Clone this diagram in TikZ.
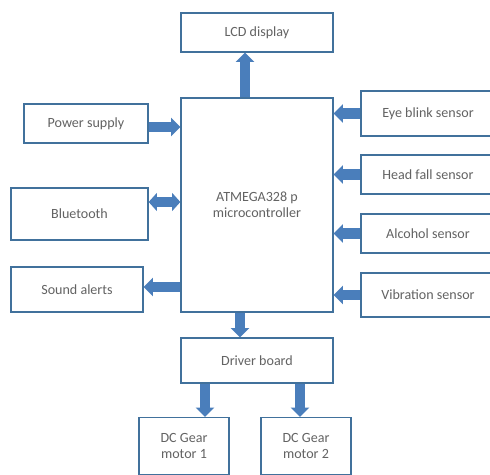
\documentclass[tikz,border=0pt]{standalone}
\usepackage{fontspec}
\setmainfont{Carlito}
\usetikzlibrary{arrows.meta}
\definecolor{blkEdge}{HTML}{41719C}
\definecolor{blkFill}{HTML}{4A7EBB}
\definecolor{blkText}{HTML}{636363}
\tikzset{
  every picture/.style={font=\fontsize{12}{14}\selectfont, text=blkText},
  blk box/.style={draw=blkEdge, line width=1.1pt, fill=white, align=center,
    inner sep=0pt},
  blk arrow/.style={-{Triangle[length=0.28cm,width=0.54cm]},
    draw=blkFill, line width=0.3cm, line cap=butt},
  blk both/.style={{Triangle[length=0.25cm,width=0.54cm]}-{Triangle[length=0.25cm,width=0.54cm]},
    draw=blkFill, line width=0.3cm, line cap=butt}
}

\begin{document}
\begin{tikzpicture}[x=0.03cm,y=-0.03cm]
  \useasboundingbox (0,0) rectangle (490,475);
  \clip (0,0) rectangle (490,475);
  % centre column
  \node[blk box, minimum width=4.56cm, minimum height=1.17cm] (lcd) at (257,32.5) {LCD display};
  \node[blk box, minimum width=4.56cm, minimum height=6.42cm] (mcu) at (257,205) {ATMEGA328 p\\microcontroller};
  \node[blk box, minimum width=4.56cm, minimum height=1.35cm] (driver) at (257,360.5) {Driver board};
  \node[blk box, minimum width=2.7cm, minimum height=1.71cm] (motorA) at (184,446) {DC Gear\\motor 1};
  \node[blk box, minimum width=2.7cm, minimum height=1.71cm] (motorB) at (306,446) {DC Gear\\motor 2};
  % left column
  \node[blk box, minimum width=3.72cm, minimum height=1.17cm] (power) at (86,123.5) {Power supply};
  \node[blk box, minimum width=4.11cm, minimum height=1.56cm] (bt) at (79.5,214) {Bluetooth};
  \node[blk box, minimum width=3.96cm, minimum height=1.35cm] (sound) at (77,289.5) {Sound alerts};
  % sensors
  \node[blk box, minimum width=4.02cm, minimum height=1.35cm] (eye) at (428,113.5) {Eye blink sensor};
  \node[blk box, minimum width=4.02cm, minimum height=1.17cm] (head) at (428,174.5) {Head fall sensor};
  \node[blk box, minimum width=4.02cm, minimum height=1.17cm] (alcohol) at (428,233.5) {Alcohol sensor};
  \node[blk box, minimum width=4.02cm, minimum height=1.32cm] (vib) at (428,295) {Vibration sensor};
  \coordinate (lcdtap) at (245,0);
  \coordinate (drvtap) at (240,0);
  \coordinate (mtrA) at (205,0);
  \coordinate (mtrB) at (300,0);
  \coordinate (pwrtap) at (0,127);
  \coordinate (bttap) at (0,202);
  \coordinate (sndtap) at (0,287);

  \draw[blk arrow] (mcu.north -| lcdtap) -- (lcd.south -| lcdtap);
  \draw[blk arrow] (mcu.south -| drvtap) -- (driver.north -| drvtap);
  \draw[blk arrow] (driver.south -| mtrA) -- (motorA.north -| mtrA);
  \draw[blk arrow] (driver.south -| mtrB) -- (motorB.north -| mtrB);
  \draw[blk arrow] (power.east |- pwrtap) -- (mcu.west |- pwrtap);
  \draw[blk both] (bt.east |- bttap) -- (mcu.west |- bttap);
  \draw[blk arrow] (mcu.west |- sndtap) -- (sound.east |- sndtap);
  \draw[blk arrow] (eye.west) -- (eye.west -| mcu.east);
  \draw[blk arrow] (head.west) -- (head.west -| mcu.east);
  \draw[blk arrow] (alcohol.west) -- (alcohol.west -| mcu.east);
  \draw[blk arrow] (vib.west) -- (vib.west -| mcu.east);
\end{tikzpicture}
\end{document}
